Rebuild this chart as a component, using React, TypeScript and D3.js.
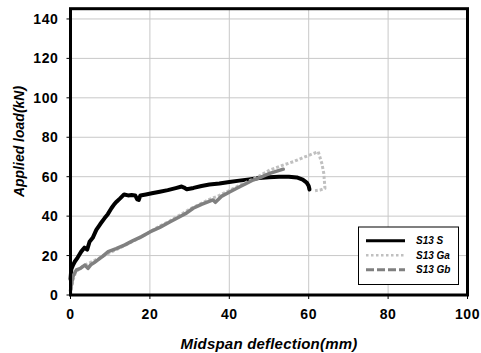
import React from "react";
import * as d3 from "d3";

// S13 S (black)
const sDefl = [0, 0.2, 0.6, 1.1, 1.8, 2.7, 3.5, 4.2, 4.8, 5.6, 6.5, 7.5, 8.6, 9.4, 10.3, 11.0, 11.6, 12.5, 13.5, 14.5, 15.4, 16.3, 16.8, 17.2, 17.6, 19, 20.5, 22.5, 24.5, 26.5, 28.0, 28.6, 29.3, 31, 33, 35, 37.5, 40, 42.5, 45, 47.5, 50, 52.5, 55, 57, 58.5, 59.5, 60, 60.2];
const sLoad = [8, 13, 15, 17, 19, 22, 24, 23, 27, 29, 33, 36, 39, 41, 44, 46, 47.3, 49, 51, 50.5, 50.7, 50.5, 48.5, 48.2, 50.5, 51, 51.6, 52.4, 53.2, 54.2, 55, 54.5, 53.6, 54.3, 55.3, 56, 56.5, 57.3, 58, 58.6, 59.3, 59.7, 60, 60, 59.6, 58.5, 57, 55.3, 53.5];

// S13 Ga (light grey, dotted)
const gaDefl = [0, 0.3, 0.7, 1.2, 2, 3, 4.5, 6, 8, 10, 12.5, 15, 17.5, 20, 22.5, 25, 27.5, 30, 32.5, 35, 37.5, 40, 42.5, 45, 47.5, 50.2, 53, 56.1, 59, 62.4, 63.3, 63.8, 64.1, 63, 61.6];
const gaLoad = [0, 4, 8, 11, 13, 14.5, 16, 17.5, 19.5, 21.5, 24, 26.5, 29, 32, 35, 37.5, 40.5, 43.5, 46, 48.5, 50.5, 53, 55.5, 57.8, 60.3, 63.4, 65.5, 67.6, 70, 72.7, 66.8, 61.7, 54.1, 53.3, 52.9];

// S13 Gb (dark grey, dashed)
const gbDefl = [0, 0.2, 0.6, 1.0, 1.5, 2.5, 3.6, 4.4, 5.2, 6.0, 6.9, 8.0, 9.5, 11.5, 13.7, 15.5, 17.9, 20, 22.5, 25, 27.5, 29.2, 30.9, 33, 35.9, 36.5, 38, 40.2, 42.5, 44.4, 46, 47.7, 50.2, 52, 53.6];
const gbLoad = [2, 5, 9.3, 11, 12.7, 13.5, 15.2, 13.5, 15.5, 16.5, 17.8, 19.5, 22, 23.5, 25.4, 27.3, 29.6, 32, 34.3, 37, 39.7, 41.5, 44, 46, 48.2, 47, 50, 52.4, 54.8, 56.7, 58.3, 59.5, 61.7, 62.8, 63.8];

const xTicks = [0, 20, 40, 60, 80, 100];
const yTicks = [0, 20, 40, 60, 80, 100, 120, 140];

const seriesNames = ["S13 S", "S13 Ga", "S13 Gb"];

export default function App() {
  const width = 481;
  const height = 353;
  const left = 70.5;
  const right = 467.5;
  const top = 8.7;
  const bottom = 295;

  const x = d3.scaleLinear().domain([0, 100]).range([left, right]);
  const y = d3.scaleLinear().domain([0, 145.2]).range([bottom, top]);

  const series = [
    { name: seriesNames[0], xs: sDefl, ys: sLoad, color: "#000000", width: 4, dash: null, cap: "round" },
    { name: seriesNames[1], xs: gaDefl, ys: gaLoad, color: "#c0c0c0", width: 3, dash: "3,2", cap: "butt" },
    { name: seriesNames[2], xs: gbDefl, ys: gbLoad, color: "#808080", width: 3.5, dash: null, cap: "round" },
  ];
  const legendDash = [null, "2.5,2.5", "8,3"];

  const line = d3
    .line<[number, number]>()
    .x((d) => x(d[0]))
    .y((d) => y(d[1]));

  const font = "'Liberation Sans', Arial, sans-serif";

  return (
    <svg
      width={width}
      height={height}
      style={{ position: "absolute", left: 0, top: 0, background: "#fff" }}
      fontFamily={font}
    >
      {/* grid */}
      {xTicks.slice(1, -1).map((t) => (
        <line key={"gx" + t} x1={x(t)} x2={x(t)} y1={top} y2={bottom} stroke="#c8c8c8" strokeWidth={1} />
      ))}
      {yTicks.slice(1).map((t) => (
        <line key={"gy" + t} x1={left} x2={right} y1={y(t)} y2={y(t)} stroke="#c8c8c8" strokeWidth={1} />
      ))}

      {/* curves */}
      {series.map((s) => (
        <path
          key={s.name}
          d={line(s.xs.map((v, i) => [v, s.ys[i]])) || ""}
          fill="none"
          stroke={s.color}
          strokeWidth={s.width}
          strokeDasharray={s.dash || undefined}
          strokeLinejoin="round"
          strokeLinecap={s.cap as any}
        />
      ))}

      {/* frame */}
      <rect x={left} y={top} width={right - left} height={bottom - top} fill="none" stroke="#000" strokeWidth={3} />

      {/* y ticks */}
      {yTicks.map((t) => (
        <g key={"yt" + t}>
          <line x1={left - 4} x2={left} y1={y(t)} y2={y(t)} stroke="#000" strokeWidth={1} />
          <text x={58.5} y={y(t)} dy="0.36em" textAnchor="end" fontSize={14} fontWeight="bold" letterSpacing={0.6}>
            {t}
          </text>
        </g>
      ))}

      {/* x ticks */}
      {xTicks.map((t) => (
        <g key={"xt" + t}>
          <line x1={x(t)} x2={x(t)} y1={bottom} y2={bottom + 4} stroke="#000" strokeWidth={1} />
          <text x={x(t)} y={319} textAnchor="middle" fontSize={14} fontWeight="bold" letterSpacing={0.6}>
            {t}
          </text>
        </g>
      ))}

      {/* axis titles */}
      <text
        x={(left + right) / 2}
        y={349}
        textAnchor="middle"
        fontSize={15}
        fontWeight="bold"
        fontStyle="italic"
        letterSpacing={0.2}
      >
        Midspan deflection(mm)
      </text>
      <text
        transform={`translate(23.5,${141.5}) rotate(-90)`}
        textAnchor="middle"
        fontSize={14}
        fontWeight="bold"
        fontStyle="italic"
      >
        Applied load(kN)
      </text>

      {/* legend */}
      <rect x={358.5} y={227} width={100} height={57.5} fill="#fff" stroke="#000" strokeWidth={1} />
      {series.map((s, i) => (
        <g key={"lg" + s.name} transform={`translate(0,${240.7 + i * 14.5})`}>
          <line
            x1={366}
            x2={405}
            y1={0}
            y2={0}
            stroke={s.color}
            strokeWidth={i === 1 ? 2.5 : 3}
            strokeDasharray={legendDash[i] || undefined}
          />
          <text x={416} y={0} dy="0.35em" fontSize={10} fontWeight="bold" fontStyle="italic">
            {s.name}
          </text>
        </g>
      ))}
    </svg>
  );
}
